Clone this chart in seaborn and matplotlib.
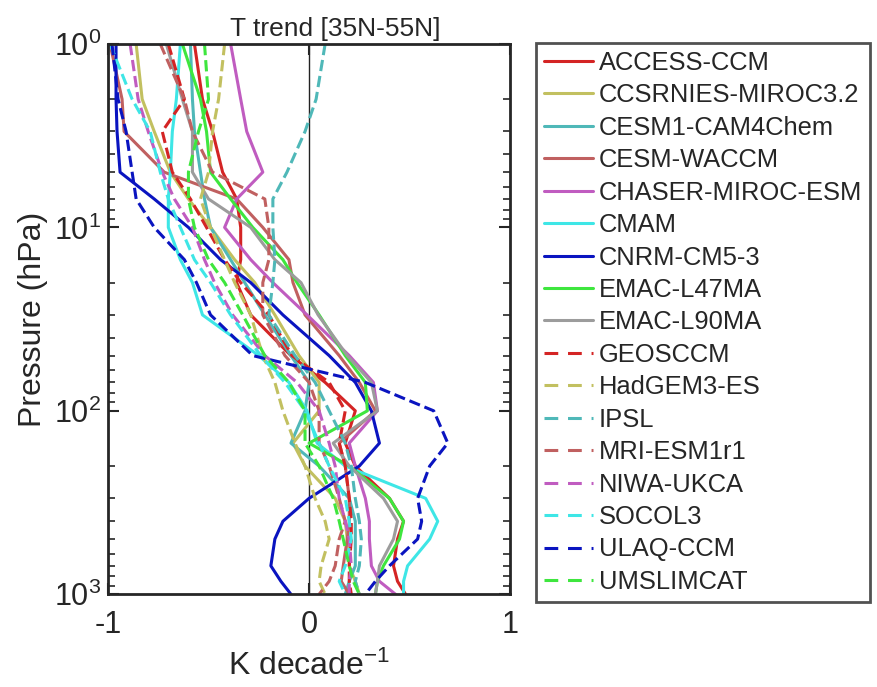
import numpy as np
import pandas as pd
import matplotlib
matplotlib.use("Agg")
import matplotlib.pyplot as plt
import seaborn as sns

# pressure levels (hPa)
plev = [1, 2, 3, 5, 7, 10, 15, 20, 30, 50, 70, 100, 150, 200, 300, 400, 500, 700, 850, 1000]

models = ["ACCESS-CCM", "CCSRNIES-MIROC3.2", "CESM1-CAM4Chem", "CESM-WACCM",
          "CHASER-MIROC-ESM", "CMAM", "CNRM-CM5-3", "EMAC-L47MA", "EMAC-L90MA",
          "GEOSCCM", "HadGEM3-ES", "IPSL", "MRI-ESM1r1", "NIWA-UKCA", "SOCOL3",
          "ULAQ-CCM", "UMSLIMCAT"]

# T trends (K/decade)
access = [-0.57, -0.53, -0.48, -0.43, -0.36, -0.34, -0.34, -0.36, -0.29, -0.09, 0.08, 0.23, 0.18, 0.23, 0.40, 0.47, 0.44, 0.42, 0.44, 0.48]
ccsrnies = [-0.86, -0.83, -0.77, -0.69, -0.60, -0.49, -0.37, -0.27, -0.17, -0.05, 0.05, 0.05, -0.08, -0.02, 0.13, 0.18, 0.19, 0.20, 0.23, 0.25]
cesm1 = [-0.59, -0.58, -0.57, -0.54, -0.52, -0.49, -0.39, -0.32, -0.22, -0.09, 0.00, -0.02, -0.09, 0.05, 0.20, 0.23, 0.23, 0.23, 0.20, 0.18]
waccm = [-0.99, -0.93, -0.92, -0.72, -0.36, -0.23, -0.10, -0.08, -0.02, 0.15, 0.25, 0.33, 0.15, 0.18, 0.20, 0.20, 0.19, 0.17, 0.16, 0.20]
chaser = [-0.39, -0.34, -0.31, -0.23, -0.36, -0.42, -0.29, -0.18, -0.01, 0.20, 0.32, 0.34, 0.20, 0.23, 0.28, 0.30, 0.30, 0.31, 0.35, 0.43]
cmam = [-0.64, -0.66, -0.68, -0.69, -0.70, -0.70, -0.64, -0.58, -0.53, -0.25, -0.10, -0.01, 0.04, 0.18, 0.58, 0.64, 0.60, 0.49, 0.47, 0.47]
cnrm = [-0.96, -0.96, -0.955, -0.94, -0.77, -0.60, -0.44, -0.29, -0.13, 0.10, 0.23, 0.31, 0.35, 0.25, 0.00, -0.13, -0.17, -0.19, -0.14, -0.09]
emac47 = [-0.63, -0.54, -0.51, -0.49, -0.39, -0.28, -0.13, -0.06, 0.05, 0.18, 0.28, 0.29, 0.00, 0.20, 0.40, 0.47, 0.45, 0.37, 0.34, 0.33]
emac90 = [-0.71, -0.63, -0.58, -0.58, -0.50, -0.29, -0.17, -0.04, 0.045, 0.19, 0.31, 0.34, 0.12, 0.20, 0.37, 0.44, 0.42, 0.35, 0.34, 0.33]
geosccm = [-0.70, -0.62, -0.73, -0.68, -0.59, -0.51, -0.42, -0.34, -0.20, -0.085, 0.10, 0.18, 0.15, 0.18, 0.20, 0.21, 0.21, 0.20, 0.20, 0.21]
hadgem = [-0.42, -0.45, -0.48, -0.50, -0.54, -0.49, -0.42, -0.37, -0.29, -0.23, -0.17, -0.13, -0.07, -0.02, 0.03, 0.08, 0.10, 0.06, 0.05, 0.08]
ipsl = [0.08, 0.035, -0.02, -0.11, -0.18, -0.18, -0.17, -0.18, -0.20, -0.07, 0.03, 0.10, 0.18, 0.21, 0.23, 0.25, 0.26, 0.25, 0.23, 0.25]
mri = [-0.74, -0.62, -0.58, -0.48, -0.22, -0.20, -0.20, -0.23, -0.23, -0.12, 0.00, 0.05, 0.05, 0.10, 0.15, 0.18, 0.15, 0.13, 0.10, 0.05]
niwa = [-0.89, -0.85, -0.80, -0.73, -0.67, -0.58, -0.52, -0.47, -0.38, -0.22, -0.06, 0.05, 0.10, 0.13, 0.15, 0.18, 0.20, 0.21, 0.20, 0.20]
socol = [-0.99, -0.88, -0.79, -0.74, -0.70, -0.64, -0.57, -0.49, -0.39, -0.24, -0.12, -0.02, 0.05, 0.10, 0.18, 0.20, 0.21, 0.18, 0.15, 0.18]
ulaq = [-0.98, -0.95, -0.91, -0.88, -0.86, -0.77, -0.62, -0.56, -0.49, -0.28, 0.28, 0.62, 0.69, 0.60, 0.54, 0.56, 0.54, 0.40, 0.33, 0.28]
umslimcat = [-0.52, -0.50, -0.55, -0.60, -0.60, -0.57, -0.50, -0.42, -0.33, -0.22, -0.10, -0.02, -0.02, 0.05, 0.12, 0.15, 0.17, 0.20, 0.22, 0.25]

trends = [access, ccsrnies, cesm1, waccm, chaser, cmam, cnrm, emac47, emac90,
          geosccm, hadgem, ipsl, mri, niwa, socol, ulaq, umslimcat]

base_colors = ["#d42424", "#c2c060", "#4fb8b8", "#c06060", "#c05cc0",
               "#3ee6e6", "#0a14c0", "#3ee63e", "#9c9c9c"]
colors = base_colors + base_colors[:8]

sns.set_style("white")
plt.rcParams['font.family'] = ['Liberation Sans', 'DejaVu Sans']
plt.rcParams['mathtext.fontset'] = 'custom'
plt.rcParams['mathtext.rm'] = 'Liberation Sans'
plt.rcParams['mathtext.it'] = 'Liberation Sans:italic'

fig = plt.figure(figsize=(8.78, 6.87), dpi=100)
ax = fig.add_axes([0.123, 0.135, 0.458, 0.801])

handles = []
for i, (name, vals) in enumerate(zip(models, trends)):
    df = pd.DataFrame({"T": vals, "p": plev})
    ls = "-" if i < 9 else "--"
    kw = dict(dashes=(4.5, 3.2)) if i >= 9 else {}
    sns.lineplot(data=df, x="T", y="p", orient="y", sort=False, estimator=None,
                 color=colors[i], linewidth=2.2, linestyle=ls, ax=ax, **kw)
    h, = ax.plot([], [], color=colors[i], linewidth=2.2, linestyle=ls, **kw)
    handles.append(h)

ax.axvline(0, color="#222222", linewidth=1.0, zorder=0)

ax.set_yscale("log")
ax.set_ylim(1000, 1)
ax.set_xlim(-1, 1)
ax.set_xticks([-1, 0, 1])
ax.set_xticklabels(["-1", "0", "1"])
ax.tick_params(axis="both", which="both", direction="in", top=True, right=True,
               left=True, bottom=True, labelsize=22, colors="#262626", pad=5)
ax.tick_params(axis="x", pad=11)
ax.tick_params(axis="both", which="major", length=8, width=1.5)
ax.tick_params(axis="y", which="minor", length=5, width=1.2)
for s in ax.spines.values():
    s.set_linewidth(2)
    s.set_color("#262626")

ax.set_xlabel("K decade$^{-1}$", fontsize=23, color="#262626", labelpad=8)
ax.set_ylabel("Pressure (hPa)", fontsize=23, color="#262626", labelpad=4)
ax.set_title("T trend [35N-55N]", fontsize=19, color="#262626", pad=6, x=0.565)

leg = fig.legend(handles, models, loc="upper left", bbox_to_anchor=(0.611, 0.937),
                 fontsize=18.4, frameon=True, fancybox=False, handlelength=1.9,
                 handletextpad=0.25, labelspacing=0.33, borderpad=0.3,
                 borderaxespad=0)
leg.get_frame().set_edgecolor("#262626")
leg.get_frame().set_linewidth(2)

fig.savefig("out.png", dpi=100)
